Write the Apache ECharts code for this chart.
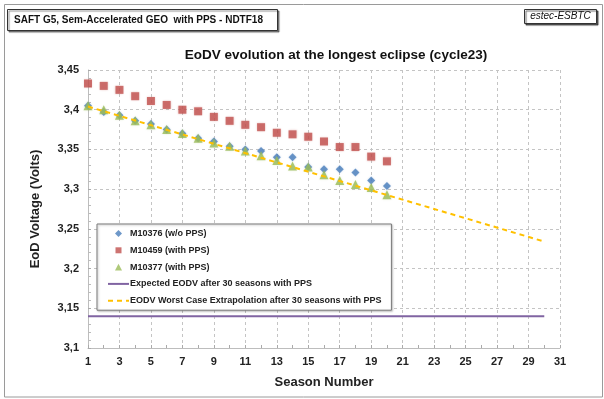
<!DOCTYPE html>
<html>
<head>
<meta charset="utf-8">
<script src="https://cdn.jsdelivr.net/npm/echarts@6/dist/echarts.min.js"></script>
<style>html,body{margin:0;padding:0;background:#fff}#c{width:604px;height:399px}</style>
</head>
<body>
<div id="c"></div>
<script>
// Data
var seasons = ['1','2','3','4','5','6','7','8','9','10','11','12','13','14','15','16','17','18','19','20','21','22','23','24','25','26','27','28','29','30','31'];
var m10376 = [3.405, 3.397, 3.393, 3.386, 3.382, 3.375, 3.370, 3.364, 3.360, 3.354, 3.350, 3.348, 3.340, 3.340, 3.328, 3.325, 3.325, 3.321, 3.311, 3.304];
var m10459 = [3.433, 3.430, 3.425, 3.417, 3.411, 3.406, 3.400, 3.398, 3.391, 3.386, 3.381, 3.378, 3.371, 3.369, 3.366, 3.360, 3.353, 3.353, 3.341, 3.335];
var m10377 = [3.405, 3.400, 3.393, 3.386, 3.381, 3.375, 3.370, 3.364, 3.358, 3.354, 3.348, 3.342, 3.336, 3.329, 3.328, 3.318, 3.311, 3.306, 3.302, 3.293];
var expected = [['1', 3.14], ['30', 3.14]];
var worstCase = [['1', 3.404], ['30', 3.234]];
var seriesNames = ['M10376 (w/o PPS)', 'M10459 (with PPS)', 'M10377 (with PPS)', 'Expected EODV after 30 seasons with PPS', 'EODV Worst Case Extrapolation after 30 seasons with PPS'];

var FONT = '"Liberation Sans", Arial, sans-serif';
// legend icons: small markers centred in a 21x9 box (the leading moves fix the box)
var BOX = 'M0,0M21,9';
var iconDiamond = 'path://' + BOX + 'M10.5,1L14,4.5L10.5,8L7,4.5Z';
var iconSquare = 'path://' + BOX + 'M7.5,1.5L13.5,1.5L13.5,7.5L7.5,7.5Z';
var iconTriangle = 'path://' + BOX + 'M10.5,1.2L14,7.8L7,7.8Z';
var hiddenDot = {color: 'rgba(0,0,0,0)', borderWidth: 0, opacity: 0};

var chart = echarts.init(document.getElementById('c'));
var gridLine = {show: true, lineStyle: {color: '#c4c4c4', type: [3, 3], width: 1}};
chart.setOption({
  animation: false,
  backgroundColor: '#fff',
  textStyle: {fontFamily: FONT},
  title: {
    text: 'EoDV evolution at the longest eclipse (cycle23)',
    left: 331, top: 43, textAlign: 'center',
    textStyle: {fontFamily: FONT, fontSize: 13.5, fontWeight: 'bold', color: '#111'}
  },
  graphic: [
    {type: 'rect', shape: {x: 4.5, y: 4.5, width: 598, height: 392.5}, style: {fill: 'none', stroke: '#9a9a9a', lineWidth: 1}, z: 0, silent: true},
    {type: 'rect', shape: {x: 7.5, y: 9.5, width: 270, height: 21}, style: {fill: '#fff', stroke: '#333', lineWidth: 1, shadowColor: 'rgba(0,0,0,0.45)', shadowOffsetX: 1.5, shadowOffsetY: 1.5, shadowBlur: 1}, z: 10},
    {type: 'text', x: 14, y: 20, style: {text: 'SAFT G5, Sem-Accelerated GEO  with PPS - NDTF18', font: 'bold 10px ' + FONT, fill: '#111', verticalAlign: 'middle'}, z: 11},
    {type: 'rect', shape: {x: 524.5, y: 9.5, width: 72, height: 14}, style: {fill: '#fff', stroke: '#333', lineWidth: 1, shadowColor: 'rgba(0,0,0,0.6)', shadowOffsetX: 1.5, shadowOffsetY: 1.5, shadowBlur: 1}, z: 10},
    {type: 'text', x: 560.5, y: 16.5, style: {text: 'estec-ESBTC', font: 'italic 10px ' + FONT, fill: '#111', align: 'center', verticalAlign: 'middle'}, z: 11}
  ],
  grid: {left: 88, right: 44, top: 70, bottom: 51, containLabel: false},
  legend: {
    orient: 'vertical', left: 97, top: 224,
    padding: [5, 10, 5, 10],
    itemWidth: 21, itemHeight: 9, itemGap: 7.8,
    backgroundColor: '#fff', borderColor: '#7a7a7a', borderWidth: 1,
    shadowColor: 'rgba(0,0,0,0.25)', shadowOffsetX: 1, shadowOffsetY: 1, shadowBlur: 2,
    textStyle: {fontFamily: FONT, fontSize: 9, fontWeight: 'bold', color: '#222', padding: [0, 0, 0, -4]},
    data: [
      {name: seriesNames[0], icon: iconDiamond},
      {name: seriesNames[1], icon: iconSquare},
      {name: seriesNames[2], icon: iconTriangle},
      {name: seriesNames[3], itemStyle: hiddenDot},
      {name: seriesNames[4], itemStyle: hiddenDot}
    ]
  },
  xAxis: {
    type: 'category', data: seasons, boundaryGap: false,
    name: 'Season Number', nameLocation: 'middle', nameGap: 28,
    nameTextStyle: {fontFamily: FONT, fontSize: 13, fontWeight: 'bold', color: '#222'},
    axisLine: {show: true, lineStyle: {color: '#bdbdbd', width: 1}},
    axisTick: {show: true, interval: 0, inside: true, length: 3, lineStyle: {color: '#aaa'}},
    axisLabel: {interval: 1, margin: 8, fontFamily: FONT, fontSize: 11, fontWeight: 'bold', color: '#222'},
    splitLine: Object.assign({interval: 1}, gridLine)
  },
  yAxis: {
    type: 'value', min: 3.1, max: 3.45, interval: 0.05,
    name: 'EoD Voltage (Volts)', nameLocation: 'middle', nameGap: 46,
    nameTextStyle: {fontFamily: FONT, fontSize: 13, fontWeight: 'bold', color: '#222'},
    axisLine: {show: true, lineStyle: {color: '#bdbdbd', width: 1}},
    axisTick: {show: true, inside: true, length: 3, lineStyle: {color: '#aaa'}},
    minorTick: {show: true, splitNumber: 5, length: 3, lineStyle: {color: '#bbb'}},
    axisLabel: {margin: 9, fontFamily: FONT, fontSize: 11, fontWeight: 'bold', color: '#222',
      formatter: function (v) { return String(Math.round(v * 100) / 100).replace('.', ','); }},
    splitLine: gridLine
  },
  series: [
    {name: seriesNames[0], type: 'scatter', data: m10376, symbol: 'diamond', symbolSize: 8,
      itemStyle: {color: '#4a7ebb', shadowColor: 'rgba(74,126,187,0.35)', shadowBlur: 2}, z: 3},
    {name: seriesNames[1], type: 'scatter', data: m10459, symbol: 'rect', symbolSize: 8,
      itemStyle: {color: '#c0504d', shadowColor: 'rgba(192,80,77,0.35)', shadowBlur: 2}, z: 3},
    {name: seriesNames[2], type: 'scatter', data: m10377, symbol: 'triangle', symbolSize: 9,
      itemStyle: {color: '#9bbb59', shadowColor: 'rgba(155,187,89,0.35)', shadowBlur: 2}, z: 4},
    {name: seriesNames[3], type: 'line', data: expected, symbol: 'none', silent: true,
      lineStyle: {color: '#8064a2', width: 2}, itemStyle: {color: '#8064a2'}, z: 2},
    {name: seriesNames[4], type: 'line', data: worstCase, symbol: 'none', silent: true,
      lineStyle: {color: '#ffc000', width: 2, type: [5, 4]}, itemStyle: {color: '#ffc000'}, z: 5}
  ]
});
</script>
</body>
</html>
